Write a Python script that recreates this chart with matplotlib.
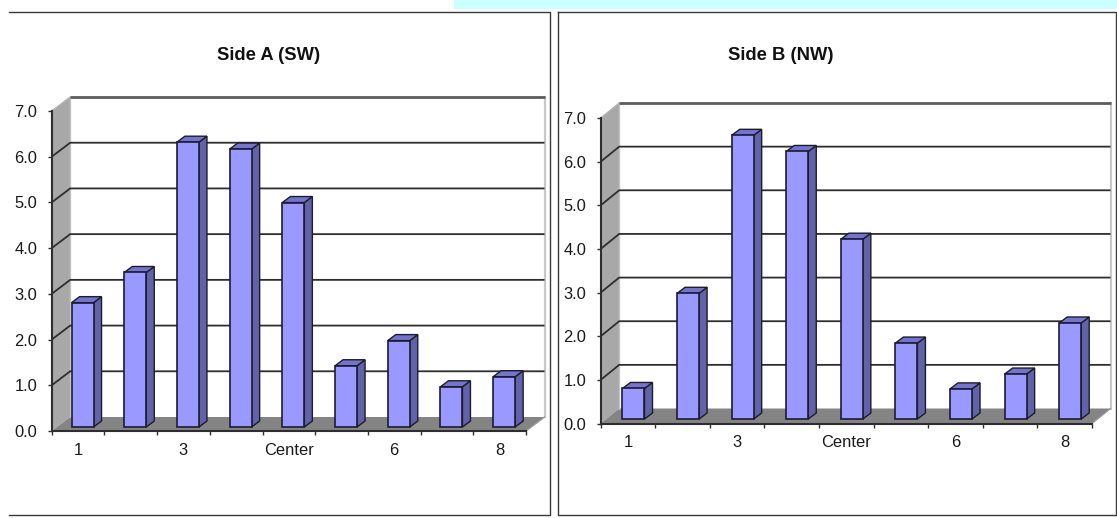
import matplotlib
matplotlib.use("Agg")
import matplotlib.pyplot as plt
from matplotlib.patches import Polygon, Rectangle
from matplotlib.lines import Line2D

plt.rcParams['font.family'] = ['Liberation Sans', 'DejaVu Sans']

W, H = 1117, 518
categories = ['1', '2', '3', '4', 'Center', '5', '6', '7', '8']
tick_labels = ['1', '', '3', '', 'Center', '', '6', '', '8']
side_a = [2.72, 3.38, 6.23, 6.08, 4.91, 1.34, 1.89, 0.88, 1.10]
side_b = [0.70, 2.88, 6.50, 6.13, 4.12, 1.74, 0.69, 1.03, 2.20]
y_ticks = [0, 1, 2, 3, 4, 5, 6, 7]
y_labels = ['0.0', '1.0', '2.0', '3.0', '4.0', '5.0', '6.0', '7.0']

FRONT = '#9999FF'
SIDE = '#6262A8'
TOP = '#7474CC'
WALL = '#A8A8A8'
FLOOR = '#848484'
DARK = '#2E2E2E'

fig = plt.figure(figsize=(W / 100, H / 100), dpi=100, facecolor='white')
fig.add_artist(Rectangle((454 / W, 1 - 9 / H), (W - 454) / W, 9 / H,
                         transform=fig.transFigure, fc='#CCFFFF', ec='none'))


def fline(xs, ys):
    fig.add_artist(Line2D([x / W for x in xs], [1 - y / H for y in ys],
                          transform=fig.transFigure, color='#3A3A3A', lw=1.0))


fline([9, 550, 550, 9], [12, 12, 515, 515])
fline([557.5, 1116, 1116, 557.5, 557.5], [12, 12, 515, 515, 12])


def panel(values, title, left, right, y0, y7, depth_x, depth_y, bar_x, bar_y,
          bar_w, bar_dx, bar_dy, title_x, title_y):
    ax = fig.add_axes([left / W, 1 - y0 / H, (right - left) / W, (y0 - y7) / H])
    ax.set_xlim(0, 9)
    ax.set_ylim(0, 7)
    ax.patch.set_visible(False)
    px = (right - left) / 9
    py = (y0 - y7) / 7
    dx, dy = depth_x / px, depth_y / py

    # side wall and floor
    ax.add_patch(Polygon([(0, 0), (dx, dy), (dx, 7 + dy), (0, 7)], fc=WALL, ec='none',
                         clip_on=False, zorder=1))
    ax.add_patch(Polygon([(0, 0), (dx, dy), (9 + dx, dy), (9, 0)], fc=FLOOR, ec='none',
                         clip_on=False, zorder=1))
    # gridlines on the walls
    for t in y_ticks[1:-1]:
        ax.plot([0, dx, 9 + dx], [t, t + dy, t + dy], color=DARK, lw=1.3, clip_on=False,
                zorder=2, solid_joinstyle='miter', solid_capstyle='butt')
    ax.plot([dx, 9 + dx], [7 + dy, 7 + dy], color='#5C5C5C', lw=2.0, clip_on=False,
            zorder=2, solid_capstyle='butt')
    ax.plot([0, dx], [7, 7 + dy], color='#B4B4B4', lw=1.0, clip_on=False, zorder=1.5)
    ax.plot([dx, dx], [dy, 7 + dy], color='#C4C4C4', lw=1.0, clip_on=False, zorder=1.5)
    ax.plot([9 + dx] * 2, [dy, 7 + dy], color='#C8C8C8', lw=1.6,
            clip_on=False, zorder=1.5)
    ax.plot([9, 9 + dx], [0, dy], color='#9A9A9A', lw=1.0, clip_on=False, zorder=1.5)

    # bars
    ox, oy = bar_x / px, bar_y / py
    w, bdx, bdy = bar_w / px, bar_dx / px, bar_dy / py
    for i, v in enumerate(values):
        x0 = i + 0.5 + ox - w / 2
        x1 = x0 + w
        top = v + oy
        ax.add_patch(Polygon([(x1, oy), (x1 + bdx, oy + bdy), (x1 + bdx, top + bdy), (x1, top)],
                             fc=SIDE, ec='#1C1C30', lw=1.0, clip_on=False, zorder=3))
        ax.add_patch(Polygon([(x0, top), (x0 + bdx, top + bdy), (x1 + bdx, top + bdy), (x1, top)],
                             fc=TOP, ec='#1C1C30', lw=1.0, clip_on=False, zorder=3))
        ax.bar(i + 0.5 + ox, v, width=w, bottom=oy, color=FRONT, edgecolor='#1C1C30',
               linewidth=1.2, clip_on=False, zorder=4)

    for s in ('top', 'right'):
        ax.spines[s].set_visible(False)
    for s in ('left', 'bottom'):
        ax.spines[s].set_color(DARK)
        ax.spines[s].set_linewidth(1.5)
        ax.spines[s].set_zorder(2.5)

    ax.set_yticks(y_ticks, y_labels)
    ax.tick_params(axis='y', length=3, width=1.0, color=DARK, pad=7.5,
                   labelsize=11.9, labelcolor='#1A1A1A')
    ax.set_xticks(range(10), [''] * 10)
    ax.set_xticks([i + 0.5 for i in range(9)], tick_labels, minor=True)
    ax.tick_params(axis='x', which='major', length=3, width=1.0, color=DARK)
    ax.tick_params(axis='x', which='minor', length=0, pad=8.5,
                   labelsize=11.9, labelcolor='#1A1A1A')
    ax.set_title(title, fontsize=13.2, fontweight='bold', color='#111111',
                 x=(title_x - left) / (right - left), y=(y0 - title_y) / (y0 - y7),
                 va='center', ha='center', pad=0)
    return ax


panel(side_a, 'Side A (SW)', 51.7, 526, 431, 111, 18.5, 14, 4.5, 4, 22, 8, 6, 268.5, 55.5)
panel(side_b, 'Side B (NW)', 600.7, 1092, 423.5, 118, 18.5, 15, 5.5, 4.5, 22, 8, 6, 780.5, 55.5)

fig.savefig('out.png', dpi=100)
